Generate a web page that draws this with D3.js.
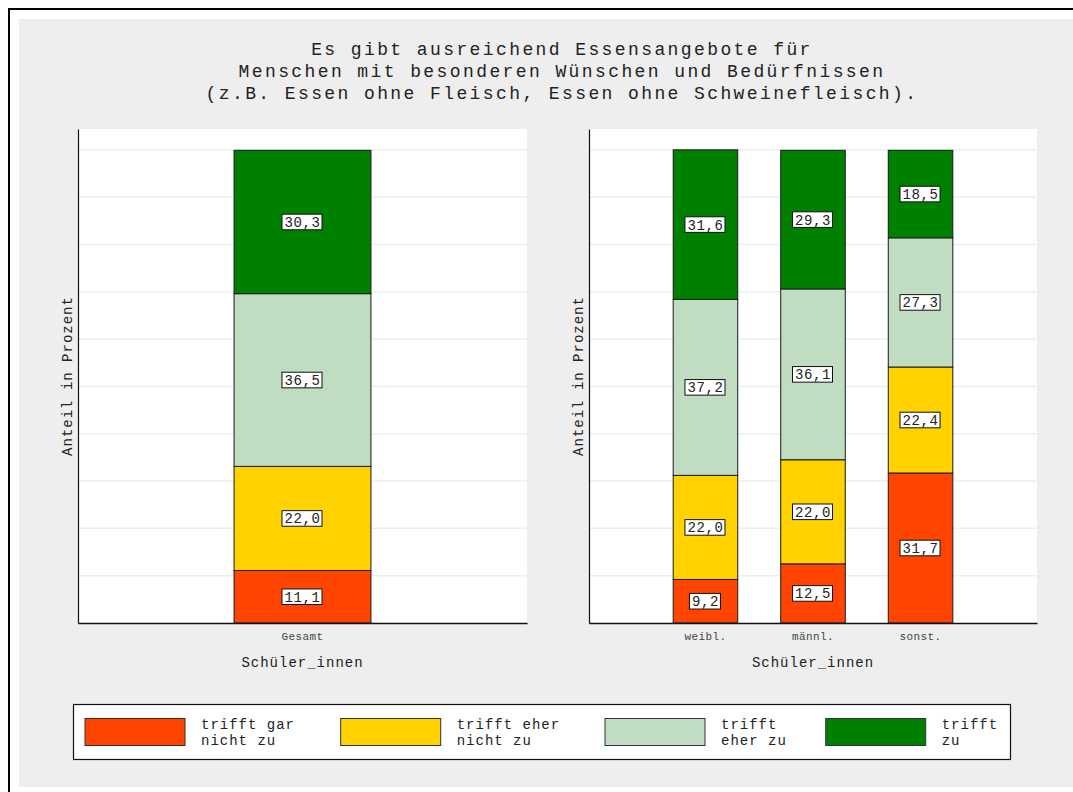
<!DOCTYPE html>
<html><head><meta charset="utf-8">
<script src="https://cdn.jsdelivr.net/npm/d3@7"></script>
<style>
html,body{margin:0;padding:0;background:#fff;}
svg text{font-family:"Courier New",Courier,FreeMono,"Nimbus Mono PS","Nimbus Mono L","Liberation Mono",monospace;}
</style></head>
<body>
<svg id="chart" width="1073" height="792"></svg>
<script>
// ---- data ----
const titleLines = ["Es gibt ausreichend Essensangebote für",
  "Menschen mit besonderen Wünschen und Bedürfnissen",
  "(z.B. Essen ohne Fleisch, Essen ohne Schweinefleisch)."];
const seriesNames = ["trifft gar nicht zu", "trifft eher nicht zu", "trifft eher zu", "trifft zu"];
const legendLines = [["trifft gar", "nicht zu"], ["trifft eher", "nicht zu"], ["trifft", "eher zu"], ["trifft", "zu"]];
const seriesColors = ["#FF4500", "#FFD200", "#C1DDC1", "#008000"];
const leftCategories = ["Gesamt"];
const rightCategories = ["weibl.", "männl.", "sonst."];
const gesamt = [11.1, 22.0, 36.5, 30.3];
const weibl = [9.2, 22.0, 37.2, 31.6];
const maennl = [12.5, 22.0, 36.1, 29.3];
const sonst = [31.7, 22.4, 27.3, 18.5];
const gridTicks = [10, 20, 30, 40, 50, 60, 70, 80, 90, 100];
const yTitle = "Anteil in Prozent";
const xTitle = "Schüler_innen";

const svg = d3.select("#chart");
const fmt = v => d3.format(".1f")(v).replace(".", ",");

// background and frame
svg.append("rect").attr("x", 19).attr("y", 19).attr("width", 1060).attr("height", 768).attr("fill", "#EEEEEE");
svg.append("path").attr("d", "M9,800 L9,9 L1080,9").attr("fill", "none").attr("stroke", "#000").attr("stroke-width", 2);
// faint sub-graph regions
svg.append("rect").attr("x", 36).attr("y", 110).attr("width", 511).attr("height", 582).attr("fill", "none").attr("stroke", "#EAEDEF").attr("stroke-width", 0.8);
svg.append("rect").attr("x", 547).attr("y", 110).attr("width", 510).attr("height", 582).attr("fill", "none").attr("stroke", "#EAEDEF").attr("stroke-width", 0.8);

// title
svg.append("g").selectAll("text").data(titleLines).join("text")
  .attr("x", 562).attr("y", (d, i) => 55 + i * 22)
  .attr("text-anchor", "middle").attr("font-size", 18).attr("letter-spacing", 2.4)
  .attr("fill", "#222").text(d => d);

function panel(cfg) {
  const g = svg.append("g");
  const y = d3.scaleLinear().domain([0, 104.4]).range([623, 129]);
  const x = d3.scaleBand().domain(cfg.cats).range([cfg.x0, cfg.x1])
    .paddingInner(0.4).paddingOuter(cfg.po);
  g.append("rect").attr("x", cfg.x0).attr("y", 129).attr("width", cfg.x1 - cfg.x0).attr("height", 494).attr("fill", "#fff");
  // grid
  g.append("g").selectAll("line").data(gridTicks).join("line")
    .attr("x1", cfg.x0).attr("x2", cfg.x1).attr("y1", d => y(d)).attr("y2", d => y(d))
    .attr("stroke", "#EAF0F2").attr("stroke-width", 1.5);
  // bars
  cfg.cats.forEach((c, ci) => {
    const vals = cfg.vals[ci];
    let cum = 0;
    const segs = vals.map((v, si) => { const s = {v, si, y0: cum, y1: cum + v}; cum += v; return s; });
    g.append("g").selectAll("rect").data(segs).join("rect")
      .attr("x", x(c)).attr("width", x.bandwidth())
      .attr("y", d => y(d.y1)).attr("height", d => y(d.y0) - y(d.y1))
      .attr("fill", d => seriesColors[d.si]).attr("stroke", "#1a1a1a").attr("stroke-width", 1);
    segs.forEach(s => {
      const cx = x(c) + x.bandwidth() / 2, cy = y((s.y0 + s.y1) / 2);
      const lg = g.append("g");
      const t = lg.append("text").attr("x", cx).attr("y", cy + 5).attr("text-anchor", "middle")
        .attr("font-size", 14).attr("letter-spacing", 0.6).attr("fill", "#222").text(fmt(s.v));
      const bb = t.node().getBBox();
      lg.insert("rect", "text").attr("x", cx - bb.width / 2 - 2.5).attr("y", cy - 7.8)
        .attr("width", bb.width + 4).attr("height", 15.6)
        .attr("fill", "#fff").attr("stroke", "#111").attr("stroke-width", 1);
    });
  });
  // axes
  const yAxis = d3.axisLeft(y).tickValues([]).tickSizeOuter(0);
  g.append("g").attr("transform", `translate(${cfg.x0},0)`).call(yAxis)
    .call(s => s.select(".domain").attr("stroke", "#111").attr("stroke-width", 1.2));
  const xAxis = d3.axisBottom(x).tickSize(0).tickSizeOuter(0);
  g.append("g").attr("transform", "translate(0,623)").call(xAxis)
    .call(s => s.select(".domain").attr("stroke", "#111").attr("stroke-width", 1.6))
    .call(s => s.selectAll("text").attr("font-family", null)
      .attr("font-size", 11).attr("letter-spacing", 0.4).attr("fill", "#444").attr("dy", 0).attr("y", 17));
  // titles
  g.append("text").attr("transform", `translate(${cfg.x0 - 6},${376}) rotate(-90)`)
    .attr("text-anchor", "middle").attr("font-size", 14).attr("letter-spacing", 1.0)
    .attr("fill", "#222").text(yTitle);
  g.append("text").attr("x", (cfg.x0 + cfg.x1) / 2).attr("y", 667).attr("text-anchor", "middle")
    .attr("font-size", 14).attr("letter-spacing", 1.0).attr("fill", "#222").text(xTitle);
}

panel({cats: leftCategories, vals: [gesamt], x0: 78, x1: 527, po: 0.684});
panel({cats: rightCategories, vals: [weibl, maennl, sonst], x0: 589, x1: 1037, po: 0.783});

// legend
const legendX = [85, 340.7, 605, 825.7];
const lg = svg.append("g");
lg.append("rect").attr("x", 73.5).attr("y", 704.5).attr("width", 937).attr("height", 55)
  .attr("fill", "#fff").attr("stroke", "#111").attr("stroke-width", 1.2);
seriesNames.forEach((n, i) => {
  lg.append("rect").attr("x", legendX[i]).attr("y", 718.5).attr("width", 100).attr("height", 27)
    .attr("fill", seriesColors[i]).attr("stroke", "#333").attr("stroke-width", 1);
  const t = lg.append("text").attr("x", legendX[i] + 116).attr("y", 729)
    .attr("font-size", 14).attr("letter-spacing", 1.0).attr("fill", "#222");
  legendLines[i].forEach((l, j) => t.append("tspan").attr("x", legendX[i] + 116).attr("dy", j ? 16 : 0).text(l));
});
</script>
</body></html>
